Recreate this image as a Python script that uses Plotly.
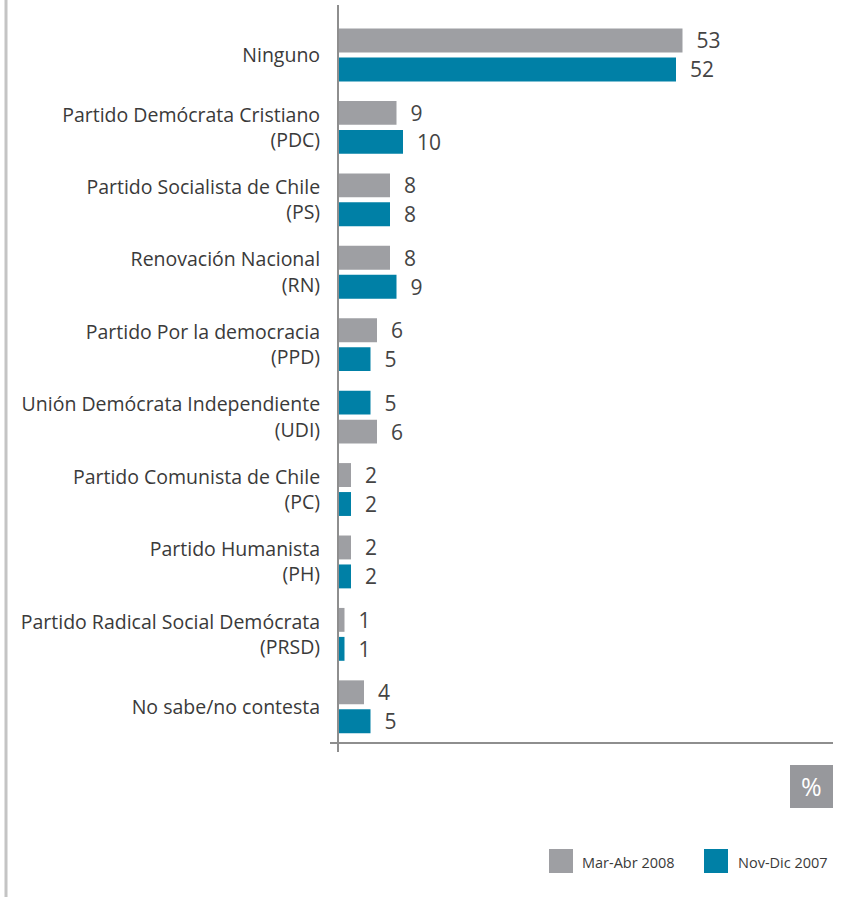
import plotly.graph_objects as go

categories = [
    "Ninguno",
    "Partido Demócrata Cristiano<br>(PDC)",
    "Partido Socialista de Chile<br>(PS)",
    "Renovación Nacional<br>(RN)",
    "Partido Por la democracia<br>(PPD)",
    "Unión Demócrata Independiente<br>(UDI)",
    "Partido Comunista de Chile<br>(PC)",
    "Partido Humanista<br>(PH)",
    "Partido Radical Social Demócrata<br>(PRSD)",
    "No sabe/no contesta",
]
mar_abr_2008 = [53, 9, 8, 8, 6, 6, 2, 2, 1, 4]
nov_dic_2007 = [52, 10, 8, 9, 5, 5, 2, 2, 1, 5]
series_names = ["Mar-Abr 2008", "Nov-Dic 2007"]
# rows where the reference draws the Nov-Dic bar above the Mar-Abr bar
blue_on_top = ["Unión Demócrata Independiente<br>(UDI)"]

GRAY = "#9e9fa3"
BLUE = "#0080a6"
TXT = "#3a3a3a"
FONT = "Open Sans"

W, H = 856, 900
L, R, T, B = 338, 23, 5, 157
PW, PH = W - L - R, H - T - B

bw = 0.33
top_off, bot_off = -0.365, 0.035
gray_off = [bot_off if c in blue_on_top else top_off for c in categories]
blue_off = [top_off if c in blue_on_top else bot_off for c in categories]

fig = go.Figure()
for name, vals, col, off in [
    (series_names[0], mar_abr_2008, GRAY, gray_off),
    (series_names[1], nov_dic_2007, BLUE, blue_off),
]:
    fig.add_trace(go.Bar(
        name=name, y=categories, x=vals, orientation="h",
        marker=dict(color=col, line=dict(width=0)),
        width=bw, offset=off,
        text=["\u00a0\u00a0" + str(v) for v in vals],
        textposition="outside", cliponaxis=False, constraintext="none",
        textfont=dict(family=FONT, size=21, color="#444444"),
        showlegend=False, hoverinfo="x+y",
    ))

def px(xp):
    return (xp - L) / PW

def py(yp):
    return (T + PH - yp) / PH

shapes = [
    # left border
    dict(type="line", xref="paper", yref="paper", x0=px(6), x1=px(6), y0=py(0), y1=py(897),
         line=dict(color="#c4c4c4", width=3)),
    # vertical axis line
    dict(type="line", xref="paper", yref="paper", x0=0, x1=0, y0=1, y1=py(752),
         line=dict(color="#8e8e8e", width=2)),
    # horizontal axis line
    dict(type="line", xref="paper", yref="paper", x0=px(330), x1=1, y0=0, y1=0,
         line=dict(color="#8e8e8e", width=2)),
    # % box
    dict(type="rect", xref="paper", yref="paper", x0=px(790), x1=px(833), y0=py(765), y1=py(808),
         fillcolor="#97989c", line=dict(width=0)),
    # legend squares
    dict(type="rect", xref="paper", yref="paper", x0=px(549), x1=px(573), y0=py(849), y1=py(873),
         fillcolor=GRAY, line=dict(width=0)),
    dict(type="rect", xref="paper", yref="paper", x0=px(704), x1=px(728), y0=py(849), y1=py(873),
         fillcolor=BLUE, line=dict(width=0)),
]
annotations = [
    dict(text="%", xref="paper", yref="paper", x=px(811.5), y=py(786.5), showarrow=False,
         font=dict(family=FONT, size=25, color="white"), xanchor="center", yanchor="middle"),
    dict(text=series_names[0], xref="paper", yref="paper", x=px(580), y=py(862), showarrow=False,
         font=dict(family=FONT, size=14.5, color=TXT), xanchor="left", yanchor="middle"),
    dict(text=series_names[1], xref="paper", yref="paper", x=px(736), y=py(862), showarrow=False,
         font=dict(family=FONT, size=14.5, color=TXT), xanchor="left", yanchor="middle"),
]

fig.update_layout(
    width=W, height=H,
    margin=dict(l=L, r=R, t=T, b=B, pad=0),
    paper_bgcolor="white", plot_bgcolor="white",
    barmode="overlay",
    shapes=shapes, annotations=annotations,
    xaxis=dict(range=[0, PW / 6.5], showgrid=False, zeroline=False, showline=False,
               showticklabels=False, ticks="", fixedrange=True),
    yaxis=dict(type="category", categoryorder="array", categoryarray=categories,
               range=[9.5, -0.69], showgrid=False, zeroline=False, showline=False,
               ticks="outside", ticklen=13, tickcolor="rgba(0,0,0,0)",
               tickfont=dict(family=FONT, size=19.5, color=TXT), fixedrange=True),
    showlegend=False,
)

fig.write_html("out.html", config={"displayModeBar": False},
               post_script="document.body.style.margin='0px';")
